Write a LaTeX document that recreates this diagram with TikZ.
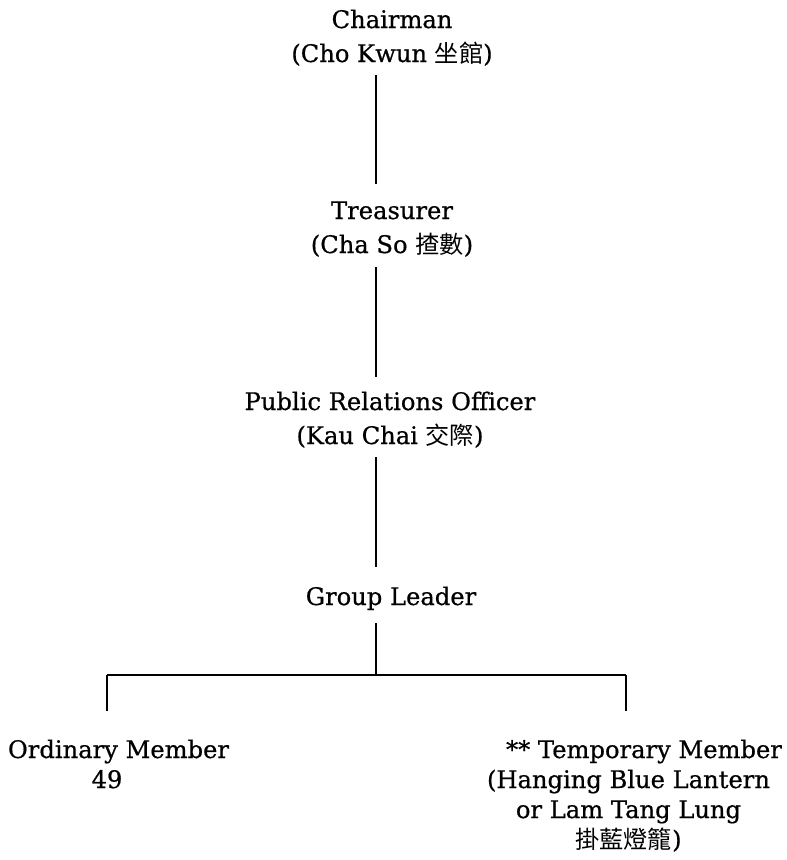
\documentclass[tikz,border=0pt]{standalone}
\usepackage{fontspec}
\setmainfont{DejaVu Serif}[FakeBold=0.6]
\newfontfamily\cjk{Noto Sans CJK TC}
\begin{document}
\begin{tikzpicture}[x=1pt,y=1pt,
  lbl/.style={inner sep=0pt, align=center, anchor=base, font=\fontsize{24.2}{34}\selectfont},
  lblb/.style={lbl, font=\fontsize{24.2}{30}\selectfont},
  conn/.style={line width=1.1pt, black}]
\useasboundingbox (0,0) rectangle (787,-860);
\coordinate (spine) at (376,0);
\coordinate (barL) at (107,-675);
\coordinate (barR) at (626,-675);
\node[lbl] (chair) at (392,-62) {Chairman\\(Cho Kwun {\cjk 坐館})};
\node[lbl] (treas) at (392,-253) {Treasurer\\(Cha So {\cjk 揸數})};
\node[lbl] (pro) at (390,-444) {Public Relations Officer\\(Kau Chai {\cjk 交際})};
\node[lbl] (group) at (391,-605) {Group Leader};
\node[lblb] (ord) at (118.5,-788) {Ordinary Member\\\hspace*{-23pt}49};
\node[lblb] (temp) at (628.5,-848) {\hspace*{31pt}** Temporary Member\\(Hanging Blue Lantern\\or Lam Tang Lung\\{\cjk 掛藍燈籠})};
\draw[conn] ([yshift=-13pt]chair.base -| spine) -- ([yshift=69pt]treas.base -| spine);
\draw[conn] ([yshift=-14pt]treas.base -| spine) -- ([yshift=67pt]pro.base -| spine);
\draw[conn] ([yshift=-13pt]pro.base -| spine) -- ([yshift=38pt]group.base -| spine);
\draw[conn] ([yshift=-18pt]group.base -| spine) -- (spine |- barL);
\draw[conn] (barL) -- (barR);
\draw[conn] (barL) -- ([yshift=77pt]ord.base -| barL);
\draw[conn] (barR) -- ([yshift=137pt]temp.base -| barR);
\end{tikzpicture}
\end{document}
